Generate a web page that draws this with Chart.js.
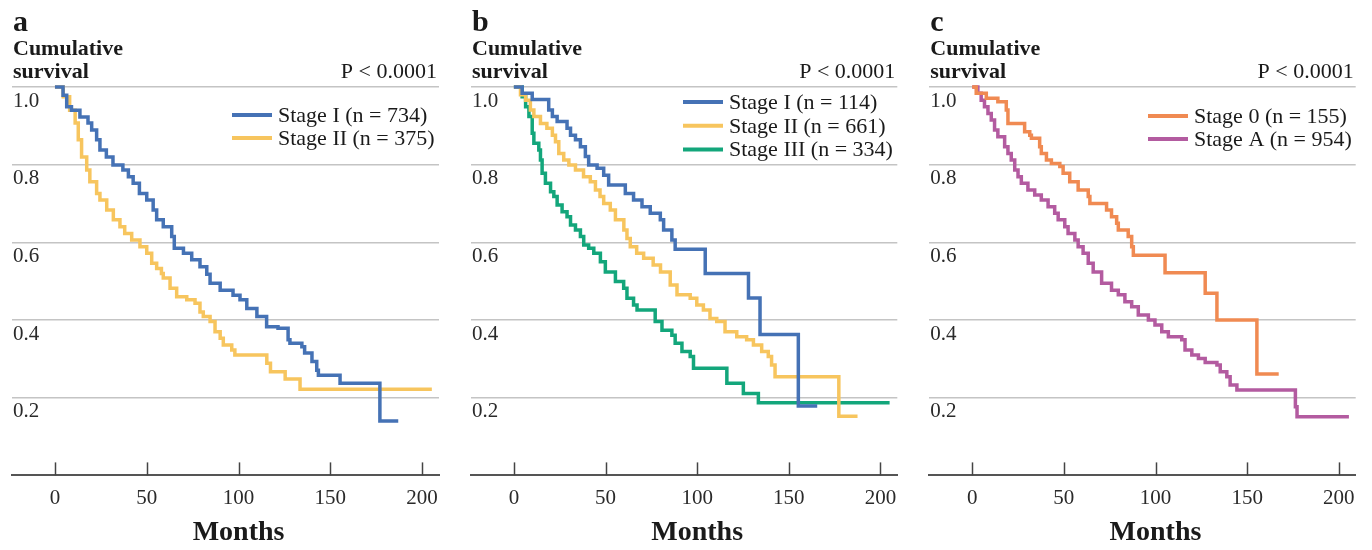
<!DOCTYPE html>
<html>
<head>
<meta charset="utf-8">
<script src="https://cdn.jsdelivr.net/npm/chart.js@4.4.1/dist/chart.umd.min.js"></script>
<style>
    html, body { margin: 0; padding: 0; background: #fff; }
    #wrap { position: relative; width: 1372px; height: 550px; }
    .panel { position: absolute; top: 0; height: 550px; }
</style>
</head>
<body>
<div id="wrap">
    <div class="panel" style="left:0;width:457px"><canvas id="chartA"></canvas></div>
    <div class="panel" style="left:457px;width:457px"><canvas id="chartB"></canvas></div>
    <div class="panel" style="left:914px;width:458px"><canvas id="chartC"></canvas></div>
</div>
<script>
// 座標軸
const X_TICKS = [0, 50, 100, 150, 200];
const Y_TICKS = [0, 0.2, 0.4, 0.6, 0.8, 1.0];
const P_TEXT = 'P < 0.0001';

// a: Stage I / Stage II
const A_LABELS = ['Stage I (n = 734)', 'Stage II (n = 375)'];
const A1_T = [0, 4.4, 6.4, 9, 13.6, 18, 20, 22.7, 24.5, 28, 31.6, 37, 40, 42.6, 46, 50, 53.5, 55.4, 59, 63.6, 65, 70, 74.5, 79, 82.7, 84.5, 90, 97, 100.8, 104.5, 110, 115.3, 121.5, 127, 128, 134.5, 136, 140, 142.6, 143.5, 155.3, 177, 187];
const A1_S = [1.0, 0.979, 0.949, 0.94, 0.923, 0.907, 0.889, 0.864, 0.838, 0.82, 0.799, 0.786, 0.769, 0.752, 0.726, 0.709, 0.683, 0.658, 0.64, 0.615, 0.585, 0.572, 0.555, 0.537, 0.518, 0.495, 0.477, 0.464, 0.452, 0.43, 0.409, 0.383, 0.379, 0.349, 0.34, 0.331, 0.315, 0.293, 0.271, 0.258, 0.237, 0.14, 0.14];
const A2_T = [0, 4.5, 8, 11, 12.7, 14.5, 17.3, 19, 22.7, 24.5, 28.2, 31.8, 35.4, 38, 41.8, 46.3, 50, 52.7, 55.4, 58, 59, 62.7, 66.3, 71.8, 76.3, 79, 80.8, 84.5, 87.2, 90, 91.7, 96.3, 98, 115.4, 117.4, 125.4, 133.5, 205.3];
const A2_S = [1.0, 0.975, 0.94, 0.907, 0.864, 0.82, 0.786, 0.756, 0.726, 0.709, 0.683, 0.658, 0.64, 0.623, 0.606, 0.589, 0.572, 0.546, 0.533, 0.52, 0.508, 0.482, 0.46, 0.452, 0.443, 0.421, 0.409, 0.396, 0.37, 0.353, 0.336, 0.323, 0.31, 0.289, 0.267, 0.248, 0.222, 0.222];

// b: Stage I / II / III
const B_LABELS = ['Stage I (n = 114)', 'Stage II (n = 661)', 'Stage III (n = 334)'];
const B1_T = [0, 4.5, 10, 19, 21, 23.6, 29, 30.9, 33.6, 36.3, 39, 40.8, 45.4, 49, 51.7, 60.8, 65.3, 69.9, 74.4, 79.9, 81.7, 86.2, 88, 104.4, 128, 134.3, 155.2, 165.5];
const B1_S = [1.0, 0.984, 0.968, 0.941, 0.924, 0.911, 0.894, 0.876, 0.864, 0.846, 0.821, 0.799, 0.791, 0.773, 0.748, 0.726, 0.709, 0.692, 0.675, 0.658, 0.632, 0.606, 0.582, 0.52, 0.457, 0.363, 0.179, 0.179];
const B2_T = [0, 3.6, 6.4, 9, 10.9, 14.5, 18, 21, 22.7, 24.5, 27.2, 30, 33.6, 38, 41.7, 44.5, 47, 49, 52.6, 55.4, 60, 61.7, 63.5, 67, 70.8, 76, 80, 85.3, 89, 96.2, 99.8, 103.4, 107, 110.7, 115.2, 121.6, 127, 130.7, 135.2, 138.8, 140.6, 142.5, 177.3, 187.5];
const B2_S = [1.0, 0.98, 0.966, 0.941, 0.924, 0.906, 0.894, 0.876, 0.859, 0.829, 0.812, 0.799, 0.786, 0.769, 0.756, 0.735, 0.718, 0.7, 0.683, 0.658, 0.632, 0.61, 0.589, 0.572, 0.559, 0.542, 0.524, 0.49, 0.465, 0.456, 0.439, 0.426, 0.404, 0.396, 0.37, 0.357, 0.349, 0.336, 0.319, 0.306, 0.284, 0.254, 0.152, 0.152];
const B3_T = [0, 4.5, 6.4, 8.2, 10, 10.9, 13.6, 14.5, 15.4, 17.2, 20, 21.8, 23.6, 26.3, 29, 30.9, 33.6, 36.3, 38.1, 40.8, 43.6, 47.2, 49.9, 55.4, 59.9, 61.7, 65.3, 67.2, 77.1, 80.8, 86.2, 88, 91.7, 96.2, 98, 116.2, 125.2, 133.4, 205];
const B3_S = [1.0, 0.975, 0.949, 0.924, 0.881, 0.855, 0.838, 0.812, 0.778, 0.752, 0.73, 0.718, 0.696, 0.679, 0.666, 0.645, 0.632, 0.615, 0.593, 0.585, 0.572, 0.55, 0.524, 0.499, 0.482, 0.456, 0.439, 0.426, 0.396, 0.374, 0.361, 0.34, 0.319, 0.306, 0.276, 0.237, 0.211, 0.187, 0.187];

// c: Stage 0 / Stage A
const C_LABELS = ['Stage 0 (n = 155)', 'Stage A (n = 954)'];
const C1_T = [0, 2.2, 7.7, 14, 18.6, 19.5, 28.6, 31.4, 32.3, 36.8, 37.7, 40.5, 43.2, 47.8, 49.6, 53.2, 57.8, 63.3, 64.2, 73.3, 76, 78.8, 79.7, 85.1, 87, 87.9, 105.2, 127.1, 133.5, 155.3, 167.2];
const C1_S = [1.0, 0.984, 0.971, 0.962, 0.941, 0.906, 0.885, 0.876, 0.868, 0.846, 0.829, 0.812, 0.803, 0.795, 0.778, 0.756, 0.735, 0.718, 0.7, 0.683, 0.666, 0.649, 0.632, 0.615, 0.589, 0.567, 0.522, 0.469, 0.4, 0.261, 0.261];
const C2_T = [0, 3.1, 4.9, 6.7, 8.6, 10.4, 12.2, 14, 17.7, 19.5, 21.3, 23.2, 25, 26.8, 30.4, 34.1, 37.7, 41.4, 45, 46.9, 50.5, 52.3, 56, 57.8, 60.5, 63.3, 66, 70.6, 76, 79.7, 83.3, 87, 90.6, 96.1, 99.7, 103.4, 107, 114.3, 116.1, 119.8, 123.4, 127.1, 133.5, 135.3, 138.9, 140.7, 144.4, 176.3, 177.2, 205.5];
const C2_S = [1.0, 0.984, 0.966, 0.949, 0.932, 0.915, 0.889, 0.872, 0.846, 0.829, 0.812, 0.786, 0.769, 0.752, 0.735, 0.722, 0.709, 0.692, 0.675, 0.658, 0.64, 0.623, 0.606, 0.589, 0.572, 0.546, 0.524, 0.495, 0.477, 0.465, 0.447, 0.434, 0.413, 0.4, 0.387, 0.37, 0.357, 0.349, 0.323, 0.31, 0.301, 0.291, 0.284, 0.267, 0.254, 0.233, 0.22, 0.177, 0.151, 0.151];

const BLUE = '#4572b5';
const YELLOW = '#f7c55e';
const GREEN = '#13a67b';
const ORANGE = '#f08a52';
const PURPLE = '#b35ba0';
const SERIF = "'Liberation Serif', 'Times New Roman', serif";

function toPoints(ts, ss) {
    return ts.map((t, i) => ({ x: t, y: ss[i] }));
}

// 文字、圖例、向上刻度
const decorPlugin = {
    id: 'decor',
    afterDraw(chart) {
        const cfg = chart.options.plugins.decor;
        const { ctx, chartArea } = chart;
        const xs = chart.scales.x;
        ctx.save();
        ctx.fillStyle = '#1a1a1a';
        ctx.textBaseline = 'alphabetic';

        ctx.textAlign = 'left';
        ctx.font = 'bold 30px ' + SERIF;
        ctx.fillText(cfg.letter, chartArea.left + 1, 31);
        ctx.font = 'bold 22px ' + SERIF;
        ctx.fillText('Cumulative', chartArea.left + 1, 55);
        ctx.fillText('survival', chartArea.left + 1, 78);

        ctx.textAlign = 'right';
        ctx.font = '22px ' + SERIF;
        ctx.fillText(P_TEXT, chartArea.right - 2, 78);

        // x 軸刻度（朝上）
        ctx.strokeStyle = '#444';
        ctx.lineWidth = 1.5;
        X_TICKS.forEach(v => {
            const px = Math.round(xs.getPixelForValue(v)) + 0.5;
            ctx.beginPath();
            ctx.moveTo(px, chartArea.bottom);
            ctx.lineTo(px, chartArea.bottom - 13);
            ctx.stroke();
        });

        ctx.textAlign = 'center';
        ctx.textBaseline = 'middle';
        ctx.font = 'bold 28px ' + SERIF;
        ctx.fillText('Months', xs.getPixelForValue(100), 533);

        // 圖例
        ctx.textAlign = 'left';
        ctx.font = '22px ' + SERIF;
        chart.data.datasets.forEach((ds, i) => {
            const y = cfg.legendY + i * cfg.legendGap;
            ctx.strokeStyle = ds.borderColor;
            ctx.lineWidth = 4;
            ctx.beginPath();
            ctx.moveTo(cfg.legendX, y);
            ctx.lineTo(cfg.legendX + 40, y);
            ctx.stroke();
            ctx.fillStyle = '#1a1a1a';
            ctx.fillText(ds.label, cfg.legendX + 46, y + 1);
        });
        ctx.restore();
    }
};

function makeChart(id, series, decor, pad) {
    return new Chart(document.getElementById(id), {
        type: 'line',
        data: {
            datasets: series.map(s => ({
                label: s.label,
                data: toPoints(s.t, s.s),
                borderColor: s.color,
                borderWidth: 3.5,
                stepped: true,
                pointRadius: 0,
                fill: false,
                clip: false
            }))
        },
        options: {
            responsive: true,
            maintainAspectRatio: false,
            animation: false,
            events: [],
            layout: { padding: pad },
            plugins: {
                legend: { display: false },
                tooltip: { enabled: false },
                decor: decor
            },
            scales: {
                x: {
                    type: 'linear',
                    min: -23.4,
                    max: 209.2,
                    afterBuildTicks: scale => { scale.ticks = X_TICKS.map(v => ({ value: v })); },
                    afterFit: scale => { scale.height = 40; },
                    grid: { display: false, drawTicks: false },
                    border: { display: true, color: '#555', width: 2 },
                    ticks: {
                        padding: 10,
                        color: '#2a2a2a',
                        font: { family: SERIF, size: 21 }
                    }
                },
                y: {
                    min: 0,
                    max: 1,
                    afterBuildTicks: scale => { scale.ticks = Y_TICKS.map(v => ({ value: v })); },
                    afterFit: scale => { scale.width = 0; },
                    grid: {
                        drawTicks: false,
                        color: c => c.tick.value === 0 ? '#555' : '#c4c4c4',
                        lineWidth: c => c.tick.value === 0 ? 2 : 1.5
                    },
                    border: { display: false },
                    ticks: {
                        mirror: true,
                        padding: 1,
                        labelOffset: 14,
                        color: '#2a2a2a',
                        font: { family: SERIF, size: 21 },
                        callback: v => v === 0 ? '' : v.toFixed(1)
                    }
                }
            }
        },
        plugins: [decorPlugin]
    });
}

makeChart('chartA', [
    { label: A_LABELS[0], t: A1_T, s: A1_S, color: BLUE },
    { label: A_LABELS[1], t: A2_T, s: A2_S, color: YELLOW }
], { letter: 'a', legendX: 232, legendY: 115, legendGap: 23 },
   { left: 12, right: 18, top: 87, bottom: 34.6 });

makeChart('chartB', [
    { label: B_LABELS[0], t: B1_T, s: B1_S, color: BLUE },
    { label: B_LABELS[1], t: B2_T, s: B2_S, color: YELLOW },
    { label: B_LABELS[2], t: B3_T, s: B3_S, color: GREEN }
], { letter: 'b', legendX: 226, legendY: 102, legendGap: 23.8 },
   { left: 14, right: 16.7, top: 87, bottom: 34.6 });

makeChart('chartC', [
    { label: C_LABELS[0], t: C1_T, s: C1_S, color: ORANGE },
    { label: C_LABELS[1], t: C2_T, s: C2_S, color: PURPLE }
], { letter: 'c', legendX: 234, legendY: 116, legendGap: 23 },
   { left: 15.3, right: 16.3, top: 87, bottom: 34.6 });
</script>
</body>
</html>
